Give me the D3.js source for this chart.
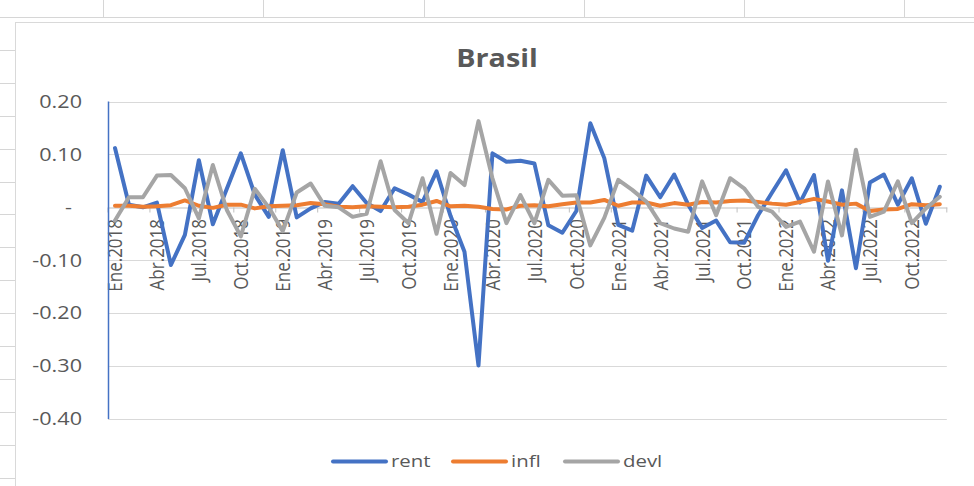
<!DOCTYPE html>
<html><head><meta charset="utf-8">
<script src="https://cdn.jsdelivr.net/npm/d3@7"></script>
<style>
body{margin:0;background:#fff;overflow:hidden}
text{font-family:"Open Sans",sans-serif;fill:#595959}
</style></head>
<body><svg id="c" width="974" height="486"></svg>
<script>
// ---- data ----
const monthNames = ["Ene","Feb","Mar","Abr","May","Jun","Jul","Ago","Sep","Oct","Nov","Dic"];
const years = [2018,2019,2020,2021,2022];
const categories = years.flatMap(y => monthNames.map(m => m + "." + y));
const rent = [0.112,0.005,0.000,0.009,-0.109,-0.052,0.089,-0.032,0.035,0.102,0.024,-0.018,
              0.108,-0.019,-0.002,0.010,0.007,0.040,0.008,-0.007,0.036,0.024,0.010,0.068,
              -0.016,-0.084,-0.299,0.102,0.086,0.088,0.083,-0.034,-0.048,-0.007,0.159,0.093,
              -0.033,-0.044,0.060,0.019,0.062,0.005,-0.039,-0.025,-0.066,-0.067,-0.015,0.028,
              0.070,0.009,0.061,-0.101,0.032,-0.115,0.047,0.062,0.005,0.055,-0.031,0.039];
const infl = [0.003,0.003,0.001,0.002,0.004,0.013,0.003,-0.001,0.005,0.005,-0.002,0.002,
              0.003,0.004,0.008,0.006,0.001,0.000,0.002,0.001,0.000,0.001,0.005,0.012,
              0.002,0.003,0.001,-0.003,-0.004,0.003,0.004,0.002,0.006,0.009,0.009,0.014,
              0.003,0.009,0.009,0.003,0.008,0.005,0.010,0.009,0.012,0.013,0.010,0.007,
              0.005,0.010,0.016,0.011,0.005,0.007,-0.007,-0.004,-0.003,0.006,0.004,0.006];
const devl = [-0.025,0.019,0.019,0.060,0.061,0.036,-0.021,0.080,-0.005,-0.055,0.035,0.000,
              -0.045,0.028,0.045,0.003,0.000,-0.018,-0.012,0.087,-0.005,-0.030,0.055,-0.050,
              0.065,0.042,0.163,0.055,-0.030,0.023,-0.030,0.052,0.022,0.023,-0.072,-0.020,
              0.052,0.033,0.011,-0.030,-0.040,-0.046,0.049,-0.015,0.055,0.036,0.001,-0.008,
              -0.037,-0.027,-0.084,0.049,-0.053,0.109,-0.018,-0.008,0.049,-0.030,-0.002,0.020];
const yTicks = [0.2,0.1,0,-0.1,-0.2,-0.3,-0.4];
const seriesNames = ["rent","infl","devl"];
const seriesColors = ["#4472C4","#ED7D31","#A5A5A5"];
const title = "Brasil";

// ---- drawing ----
const svg = d3.select("#c");
const W = 974, H = 486;
const SX = 1.2; // horizontal text stretch of the reference

// spreadsheet background
const bg = svg.append("g");
bg.append("line").attr("x1",0).attr("x2",W).attr("y1",17.5).attr("y2",17.5).attr("stroke","#D6D6D6");
[103,263,424,584,744,904].forEach(x=>bg.append("line").attr("x1",x+0.5).attr("x2",x+0.5).attr("y1",0).attr("y2",17).attr("stroke","#D6D6D6"));
d3.range(1,15).forEach(k=>{const y=Math.round(17+32.9*k)+0.5;
  bg.append("line").attr("x1",0).attr("x2",15).attr("y1",y).attr("y2",y).attr("stroke","#D6D6D6");});
bg.append("rect").attr("x",15.5).attr("y",22.5).attr("width",W).attr("height",H)
  .attr("fill","#fff").attr("stroke","#D9D9D9");

const x = d3.scaleBand().domain(categories).range([108,946.8]);
const y = d3.scaleLinear().domain([-0.4,0.2]).range([419,101.5]);
const cx = d => x(d) + x.bandwidth()/2;

// title
svg.append("text").attr("transform",`translate(497,67) scale(1.15,1)`)
  .attr("text-anchor","middle").style("font-size","25px").style("font-weight","bold")
  .text(title);

// gridlines
const grid = svg.append("g");
yTicks.forEach(t=>{ if(t===0) return;
  grid.append("line").attr("x1",108).attr("x2",946.8)
   .attr("y1",Math.round(y(t))+0.5).attr("y2",Math.round(y(t))+0.5)
   .attr("stroke","#D9D9D9").attr("stroke-width",1.2);});

// y labels
const fmt = d3.formatLocale({decimal:".",thousands:",",grouping:[3],currency:["",""],minus:"-"}).format(".2f");
yTicks.forEach(t=>{
  const lbl = t===0 ? "-" : fmt(t);
  svg.append("text").attr("transform",`translate(${t===0?72:82},${y(t)}) scale(${SX},1)`)
    .attr("text-anchor","end").attr("dy","0.35em").style("font-size","18px").text(lbl);
});

// x axis at zero
const y0 = Math.round(y(0))+0.5;
const xAxis = d3.axisBottom(x).tickValues([]).tickSizeOuter(0);
const gx = svg.append("g").attr("transform",`translate(0,${y0})`).call(xAxis);
gx.select(".domain").attr("stroke","#BFBFBF").attr("stroke-width",1.2);
const tickIdx = d3.range(0,60,3);
tickIdx.concat([60]).forEach(i=>{
  const xx = i<60 ? x(categories[i]) : x.range()[1];
  gx.append("line").attr("x1",xx).attr("x2",xx).attr("y1",0).attr("y2",5).attr("stroke","#BFBFBF");
});
tickIdx.forEach(i=>{
  const c = categories[i];
  svg.append("text").attr("transform",`translate(${cx(c)},219) scale(${SX},1) rotate(-90)`)
    .attr("text-anchor","end").attr("dy","0.36em").style("font-size","17px").text(c);
});

// y axis line (blue)
svg.append("line").attr("x1",108.5).attr("x2",108.5).attr("y1",101.5).attr("y2",419)
  .attr("stroke","#4472C4").attr("stroke-width",1.5);

// series
const data = [rent, infl, devl];
const line = d3.line().x((d,i)=>cx(categories[i])).y(d=>y(d));
data.forEach((s,k)=>{
  svg.append("path").datum(s).attr("d",line).attr("fill","none")
    .attr("stroke",seriesColors[k]).attr("stroke-width",4)
    .attr("stroke-linejoin","round").attr("stroke-linecap","round");
});

// legend
const legX = [333,453,565];
seriesNames.forEach((n,k)=>{
  svg.append("line").attr("x1",legX[k]).attr("x2",legX[k]+53).attr("y1",461.5).attr("y2",461.5)
    .attr("stroke",seriesColors[k]).attr("stroke-width",4).attr("stroke-linecap","round");
  svg.append("text").attr("transform",`translate(${legX[k]+58},461.5) scale(${SX},1)`)
    .attr("dy","0.35em").style("font-size","17px").text(n);
});
</script></body></html>
